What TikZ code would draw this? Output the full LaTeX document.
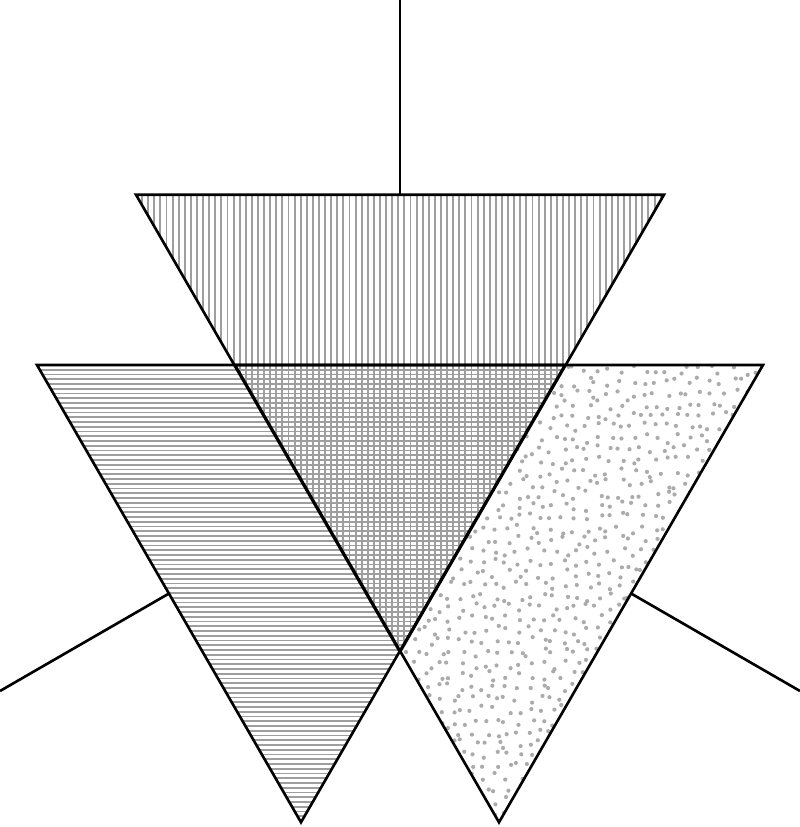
\documentclass[tikz,border=0pt]{standalone}
\tikzset{
  edge/.style={line width=0.75pt,black},
  hatch/.style={line width=0.55pt,black!38},
  speck/.style={fill=black!33},
}
\begin{document}
\begin{tikzpicture}
		\useasboundingbox (0,0) rectangle (8,-8.27);
		% corners of the three triangles
		\coordinate (topL) at (1.36,-1.947);
		\coordinate (topR) at (6.64,-1.947);
		\coordinate (topM) at (4.00,-1.947);
		\coordinate (mid) at (4.00,-6.52);
		\coordinate (leftL) at (0.37,-3.65);
		\coordinate (leftR) at (5.65,-3.65);
		\coordinate (leftB) at (3.01,-8.223);
		\coordinate (rightL) at (2.35,-3.65);
		\coordinate (rightR) at (7.63,-3.65);
		\coordinate (rightB) at (4.99,-8.223);
		\coordinate (centre) at (4.00,-4.60);
		\coordinate (northEnd) at (4.00,0);
		\coordinate (westEnd) at (0,-6.91);
		\coordinate (eastEnd) at (8,-6.91);
		% vertical lines
		\begin{scope}
			\clip (topL) -- (topR) -- (mid) -- cycle;
			\foreach \i in {0,...,88}
				\draw[hatch] ({1.36+0.061*\i},-1.9) -- ++(0,-4.7);
		\end{scope}
		% horizontal lines
		\begin{scope}
			\clip (leftL) -- (leftR) -- (leftB) -- cycle;
			\foreach \i in {0,...,97}
				\draw[hatch] (0.3,{-3.65-0.0475*\i}) -- ++(5.4,0);
		\end{scope}
		% dots
		\begin{scope}
			\clip (leftR) -- (rightR) -- (rightB) -- (mid) -- cycle;
			\pgfmathsetseed{7}
			\foreach \i in {0,...,32}
				\foreach \j in {0,...,40}
					\fill[speck] ({4+0.113*(\i+0.5+0.42*rand)},{-3.65-0.113*(\j+0.5+0.42*rand)}) circle (0.021);
		\end{scope}
		\draw[edge] (topL) -- (topR) -- (mid) -- cycle;
		\draw[edge] (leftL) -- (leftR) -- (leftB) -- cycle;
		\draw[edge] (rightL) -- (rightR) -- (rightB) -- cycle;
		\draw[edge] (northEnd) -- (topM);
		\draw[edge] (westEnd) -- (intersection of leftL--leftB and centre--westEnd);
		\draw[edge] (eastEnd) -- (intersection of rightR--rightB and centre--eastEnd);
	\end{tikzpicture}
\end{document}
